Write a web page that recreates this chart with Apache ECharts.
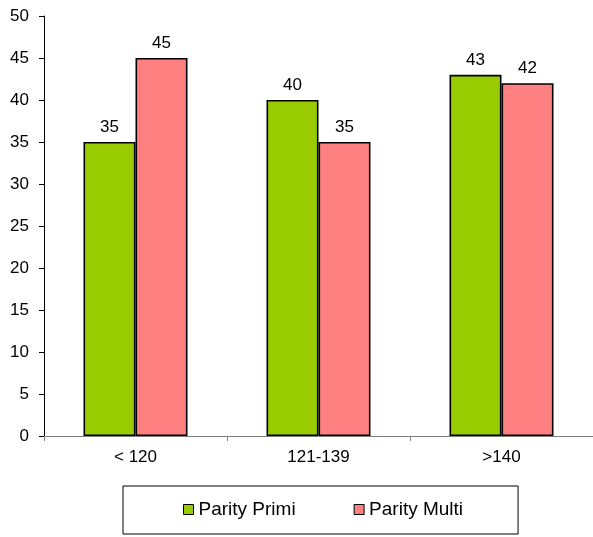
<!DOCTYPE html>
<html><head><meta charset="utf-8">
<script src="https://cdn.jsdelivr.net/npm/echarts@6/dist/echarts.min.js"></script>
<style>html,body{margin:0;padding:0;background:#fff}#c{width:593px;height:537px}</style>
</head><body><div id="c"></div>
<script>
var categories = ['< 120', '121-139', '>140'];
var primi = [35, 40, 43];
var multi = [45, 35, 42];
var seriesNames = ['Parity Primi', 'Parity Multi'];
var yTicks = {min: 0, max: 50, interval: 5};

var chart = echarts.init(document.getElementById('c'), null, {renderer: 'canvas'});
var font = 'Liberation Sans, Arial, sans-serif';
function bar(name, data, color) {
  return {
    name: name, type: 'bar', data: data, barWidth: 52, barGap: '0%',
    itemStyle: {color: color, borderColor: '#000', borderWidth: 1.6},
    label: {show: true, position: 'top', distance: 6, color: '#000', fontSize: 17, fontFamily: font}
  };
}
chart.setOption({
  animation: false,
  grid: {left: 44, top: 16, width: 552, height: 420, containLabel: false},
  legend: {
    data: seriesNames, left: 123, top: 486, icon: 'rect',
    padding: [14, 55, 15, 60], itemGap: 58, itemWidth: 10, itemHeight: 10,
    borderColor: '#000', borderWidth: 1,
    itemStyle: {borderColor: '#000', borderWidth: 1},
    textStyle: {fontSize: 19, color: '#000', fontFamily: font}
  },
  xAxis: {
    type: 'category', data: categories,
    axisLine: {lineStyle: {color: '#808080', width: 1}},
    axisTick: {show: true, length: 5, lineStyle: {color: '#808080'}},
    axisLabel: {fontSize: 17, color: '#000', fontFamily: font, margin: 13}
  },
  yAxis: {
    type: 'value', min: yTicks.min, max: yTicks.max, interval: yTicks.interval,
    axisLine: {show: true, lineStyle: {color: '#000', width: 1}},
    axisTick: {show: true, length: 5, lineStyle: {color: '#000'}},
    splitLine: {show: false},
    axisLabel: {fontSize: 17, color: '#000', fontFamily: font, margin: 15}
  },
  series: [bar(seriesNames[0], primi, '#99CC00'), bar(seriesNames[1], multi, '#FF8080')]
});
</script></body></html>
